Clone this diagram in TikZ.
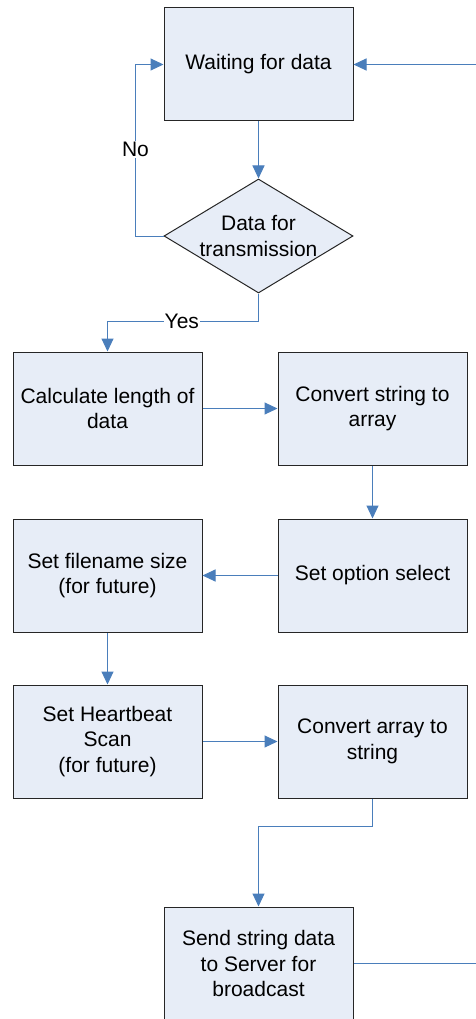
\documentclass[tikz,border=0pt]{standalone}
\usepackage{fontspec}
\setmainfont{Liberation Sans}
\usetikzlibrary{positioning, shapes.geometric, arrows.meta}
\definecolor{boxfill}{RGB}{231,237,247}
\definecolor{flowline}{RGB}{74,126,187}

\begin{document}
\begin{tikzpicture}[x=1pt,y=1pt,
                  font=\fontsize{21}{25.5}\selectfont,
                  box/.style={rectangle,draw=black!85,fill=boxfill,line width=1pt,inner sep=0pt,
                    minimum width=189pt,minimum height=113pt,align=center},
                  decide/.style={diamond,draw=black!85,fill=boxfill,line width=1pt,inner sep=0pt,
                    minimum width=189pt,minimum height=114pt,aspect=1.66},
                  pre/.style={<-,draw=flowline,line width=1pt,>={Triangle[length=13pt,width=12pt]}},
                  post/.style={->,draw=flowline,line width=1pt,>={Triangle[length=13pt,width=12pt]}},
                  answer/.style={fill=white,inner sep=1pt}
                  ]
                  \useasboundingbox (0,0) rectangle (476,-1019);
                  \clip (0,0) rectangle (476,-1019);

                  \node[box] (wait) at (258.5,-64.5) {Waiting for data};
                  \node[decide] (dec) [below=57pt of wait,
                    label={[align=center]center:{Data for\\transmission}}] {}
                  edge [pre] (wait);

                  \node[box] (calc) at (107.5,-408.5) {Calculate length of\\data};
                  \node[box] (conv1) [right=75pt of calc] {Convert string to\\array}
                  edge [pre] (calc);
                  \node[box] (opt) [below=53pt of conv1] {Set option select}
                  edge [pre] (conv1);
                  \node[box] (fname) [left=75pt of opt] {Set filename size\\(for future)}
                  edge [pre] (opt);
                  \node[box] (beat) [below=52pt of fname] {Set Heartbeat\\Scan\\(for future)}
                  edge [pre] (fname);
                  \node[box] (conv2) [right=75pt of beat] {Convert array to\\string}
                  edge [pre] (beat);
                  \node[box] (send) at (258.5,-963.5) {Send string data\\to Server for\\broadcast};

                  % loops and bends
                  \draw[post] (dec.west) -- ++(-28,0) |- node[answer,pos=0.252] {No} (wait.west);
                  \draw[post] (dec.south) -- ++(0,-28) -| node[answer,pos=0.254] {Yes} (calc.north);
                  \draw[post] (conv2.south) -- ++(0,-28) -| (send.north);
                  \draw[post] (send.east) -- ++(140,0) |- (wait.east);
                \end{tikzpicture}
\end{document}
